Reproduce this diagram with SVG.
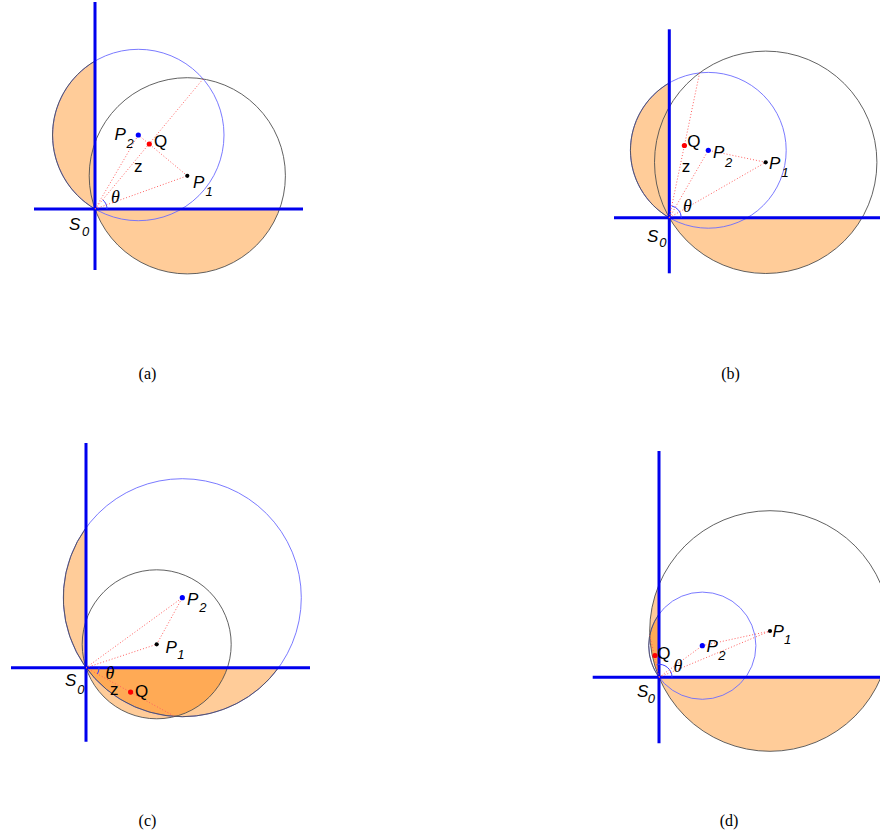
<svg xmlns="http://www.w3.org/2000/svg" width="880" height="840" viewBox="0 0 880 840">
<style>
.bg{fill:#ffffff}
.lt{fill:#ffcc99;stroke:none}
.dk{fill:#ffaa55;stroke:none}
.edge{fill:none;stroke:#505050;stroke-width:0.9}
.c1{fill:none;stroke:#505050;stroke-width:0.9}
.c2{fill:none;stroke:#6b6bff;stroke-width:0.9}
.ax{stroke:#0000ee;stroke-width:3;fill:none}
.ang{fill:none;stroke:#3a3aff;stroke-width:1}
.dot{stroke:#ff6060;stroke-width:1;stroke-dasharray:1 2;fill:none}
.p1{fill:#000000}
.p2{fill:#0000ff}
.q{fill:#ff0000}
.lbl{font-family:"Liberation Sans",Arial,sans-serif;font-size:17px;fill:#000}
.it{font-style:italic}
.sub{font-family:"Liberation Sans",Arial,sans-serif;font-size:13px;font-style:italic;fill:#000}
.th{font-family:"Liberation Serif","Times New Roman",serif;font-size:18px;font-style:italic;fill:#000}
.cap{font-family:"Liberation Serif","Times New Roman",serif;font-size:16px;fill:#000;text-anchor:middle}
</style>
<defs>
<clipPath id="clipD"><circle cx="770" cy="631" r="120.3"/></clipPath>
</defs>
<rect class="bg" x="0" y="0" width="880" height="840"/>

<!-- Panel (a) -->
<g id="panel-a">
  <path class="lt" d="M95 209 A98.1 98.1 0 0 0 279.6 209 Z"/>
  <path class="lt" d="M95 61 A85.7 85.7 0 0 0 95 209 Z"/>
  <circle class="c2" cx="138.3" cy="135" r="85.7"/>
  <path class="edge" d="M95 61 A85.7 85.7 0 0 0 95 209"/>
  <circle class="c1" cx="187.3" cy="175.8" r="98.1"/>
  <line class="ax" x1="95" y1="2" x2="95" y2="270"/>
  <line class="ax" x1="34" y1="209" x2="303" y2="209"/>
  <path class="ang" d="M107 209 A12 12 0 0 0 102.7 199.8"/>
  <g id="a-connectors">
    <line class="dot" x1="95" y1="209" x2="187.3" y2="175.8"/>
    <line class="dot" x1="95" y1="209" x2="138.3" y2="135"/>
    <line class="dot" x1="187.3" y1="175.8" x2="138.3" y2="135"/>
    <line class="dot" x1="95" y1="209" x2="203.2" y2="78.8"/>
  </g>
  <g id="a-P2"><circle class="p2" cx="138.3" cy="135" r="2.6"/><text class="lbl it" x="114.5" y="140">P</text><text class="sub" x="126.5" y="148.3">2</text></g>
  <g id="a-Q"><circle class="q" cx="149.3" cy="144" r="2.6"/><text class="lbl" x="154" y="147.3">Q</text></g>
  <g id="a-P1"><circle class="p1" cx="187.3" cy="175.8" r="2.1"/><text class="lbl it" x="193" y="188.3">P</text><text class="sub" x="205.5" y="195.5">1</text></g>
  <g id="a-S0"><text class="lbl it" x="69" y="230">S</text><text class="sub" x="82" y="236">0</text></g>
  <text class="lbl" x="134" y="172.3">z</text>
  <text class="th" x="111" y="203.3">θ</text>
  <text class="cap" x="147.5" y="379">(a)</text>
</g>

<!-- Panel (b) -->
<g id="panel-b">
  <path class="lt" d="M669.3 217.7 A111.2 111.2 0 0 0 862.1 217.7 Z"/>
  <path class="lt" d="M669.3 82.9 A77.9 77.9 0 0 0 669.3 217.7 Z"/>
  <circle class="c2" cx="708.3" cy="150.3" r="77.9"/>
  <path class="edge" d="M669.3 82.9 A77.9 77.9 0 0 0 669.3 217.7"/>
  <circle class="c1" cx="765.7" cy="162.3" r="111.2"/>
  <line class="ax" x1="669.3" y1="29.3" x2="669.3" y2="273.3"/>
  <line class="ax" x1="614" y1="217.7" x2="880" y2="217.7"/>
  <path class="ang" d="M681.3 217.7 A12 12 0 0 0 671.8 206"/>
  <g id="b-connectors">
    <line class="dot" x1="669.3" y1="217.7" x2="765.7" y2="162.3"/>
    <line class="dot" x1="669.3" y1="217.7" x2="708.3" y2="150.3"/>
    <line class="dot" x1="765.7" y1="162.3" x2="708.3" y2="150.3"/>
    <line class="dot" x1="669.3" y1="217.7" x2="699.6" y2="72.9"/>
  </g>
  <g id="b-Q"><circle class="q" cx="684.4" cy="145.5" r="2.6"/><text class="lbl" x="687.3" y="146.7">Q</text></g>
  <g id="b-P2"><circle class="p2" cx="708.3" cy="150.3" r="2.6"/><text class="lbl it" x="713" y="158.3">P</text><text class="sub" x="725" y="166.7">2</text></g>
  <g id="b-P1"><circle class="p1" cx="765.7" cy="162.3" r="2.1"/><text class="lbl it" x="769" y="169">P</text><text class="sub" x="781.5" y="176.7">1</text></g>
  <g id="b-S0"><text class="lbl it" x="647" y="241.7">S</text><text class="sub" x="659.3" y="246.7">0</text></g>
  <text class="lbl" x="681.7" y="172.3">z</text>
  <text class="th" x="683" y="211.7">θ</text>
  <text class="cap" x="730.5" y="379">(b)</text>
</g>

<!-- Panel (c) -->
<g id="panel-c">
  <path class="lt" d="M86 527.8 A119 119 0 0 0 86 667.7 Z"/>
  <path class="lt" d="M86 667.7 A119 119 0 0 0 278.5 667.7 Z"/>
  <path class="lt" d="M86 667.7 A74.5 74.5 0 0 0 227.4 667.7 Z"/>
  <path class="dk" d="M86 667.7 L227.4 667.7 A74.5 74.5 0 0 1 174.8 716.5 A119 119 0 0 1 86 667.7 Z"/>
  <circle class="c2" cx="182.3" cy="597.7" r="119"/>
  <path class="edge" d="M86 527.8 A119 119 0 0 0 182.3 716.7 A119 119 0 0 0 278.5 667.7"/>
  <circle class="c1" cx="156.7" cy="644.3" r="74.5"/>
  <line class="ax" x1="86" y1="443" x2="86" y2="741.7"/>
  <line class="ax" x1="11" y1="667.7" x2="310" y2="667.7"/>
  <path class="ang" d="M99 667.7 A13 13 0 0 1 97.4 674"/>
  <g id="c-connectors">
    <line class="dot" x1="86" y1="667.7" x2="156.7" y2="644.3"/>
    <line class="dot" x1="86" y1="667.7" x2="182.3" y2="597.7"/>
    <line class="dot" x1="156.7" y1="644.3" x2="182.3" y2="597.7"/>
    <line class="dot" x1="86" y1="667.7" x2="174.8" y2="716.5"/>
  </g>
  <g id="c-P2"><circle class="p2" cx="182.3" cy="597.7" r="2.6"/><text class="lbl it" x="187" y="605">P</text><text class="sub" x="199.3" y="612">2</text></g>
  <g id="c-P1"><circle class="p1" cx="156.7" cy="644.3" r="2.1"/><text class="lbl it" x="165.5" y="652.7">P</text><text class="sub" x="177.3" y="659">1</text></g>
  <g id="c-Q"><circle class="q" cx="130.6" cy="692.1" r="2.6"/><text class="lbl" x="135" y="696.7">Q</text></g>
  <g id="c-S0"><text class="lbl it" x="65" y="686">S</text><text class="sub" x="77.3" y="694">0</text></g>
  <text class="lbl" x="110" y="695">z</text>
  <text class="th" x="105.5" y="679.3">θ</text>
  <text class="cap" x="147.5" y="826">(c)</text>
</g>

<!-- Panel (d) -->
<g id="panel-d">
  <path class="lt" d="M659 677.3 A120.3 120.3 0 0 0 881 677.3 Z"/>
  <path class="lt" d="M659 584.6 A120.3 120.3 0 0 0 659 677.3 Z"/>
  <path class="dk" clip-path="url(#clipD)" d="M659 614.1 A53.6 53.6 0 0 0 659 677.3 Z"/>
  <circle class="c2" cx="702.3" cy="645.7" r="53.6"/>
  <path class="edge" d="M659 614.1 A53.6 53.6 0 0 0 659 677.3"/>
  <circle class="c1" cx="770" cy="631" r="120.3"/>
  <line class="ax" x1="659" y1="451" x2="659" y2="743.3"/>
  <line class="ax" x1="592.7" y1="677.3" x2="880" y2="677.3"/>
  <path class="ang" d="M672 677.3 A13 13 0 0 0 656.7 664.5"/>
  <g id="d-connectors">
    <line class="dot" x1="659" y1="677.3" x2="770" y2="631"/>
    <line class="dot" x1="659" y1="677.3" x2="702.3" y2="645.7"/>
    <line class="dot" x1="702.3" y1="645.7" x2="770" y2="631"/>
    <line class="dot" x1="659" y1="677.3" x2="649.8" y2="634.9"/>
  </g>
  <g id="d-P1"><circle class="p1" cx="770" cy="631" r="2.1"/><text class="lbl it" x="772.5" y="636.7">P</text><text class="sub" x="784" y="644">1</text></g>
  <g id="d-P2"><circle class="p2" cx="702.3" cy="645.7" r="2.6"/><text class="lbl it" x="706.5" y="651.7">P</text><text class="sub" x="718.3" y="660">2</text></g>
  <g id="d-Q"><circle class="q" cx="655" cy="655.5" r="2.6"/><text class="lbl" x="657.3" y="659.3">Q</text></g>
  <g id="d-S0"><text class="lbl it" x="637" y="697.3">S</text><text class="sub" x="647.7" y="702.7">0</text></g>
  <text class="th" x="673.5" y="671.7">θ</text>
  <text class="cap" x="729" y="826">(d)</text>
</g>
</svg>
